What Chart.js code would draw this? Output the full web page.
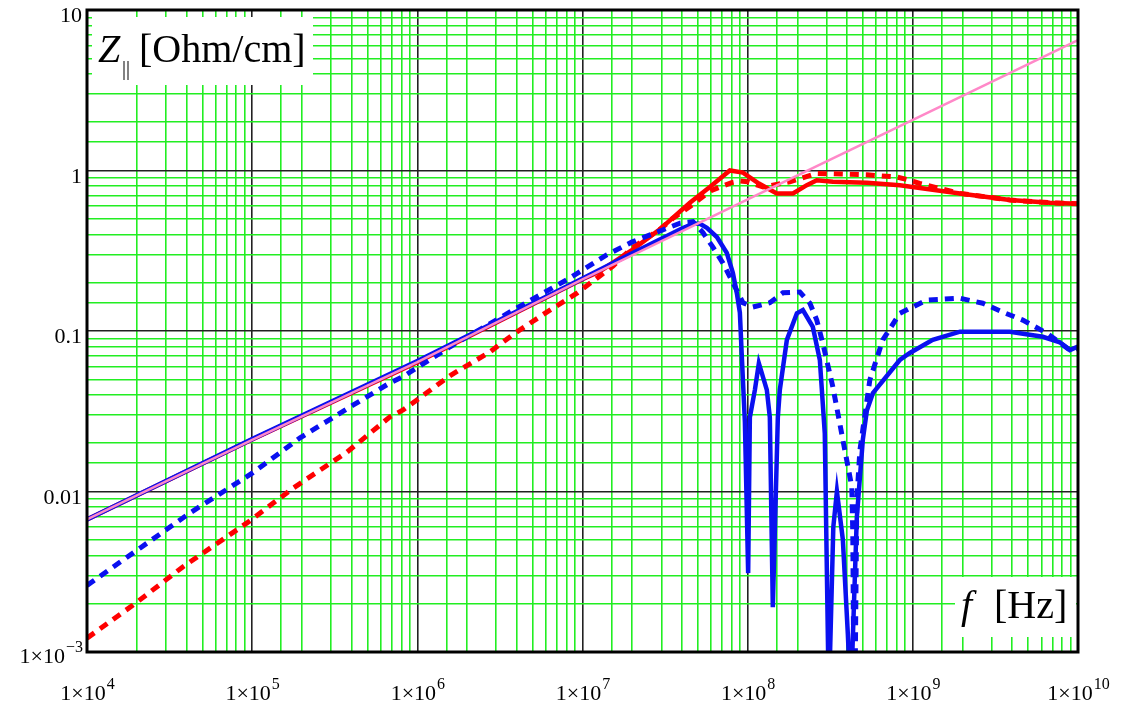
<!DOCTYPE html>
<html lang="en">

<head>
    <meta charset="UTF-8">
    <title>Z|| [Ohm/cm] vs f [Hz]</title>
    <script src="https://cdn.jsdelivr.net/npm/chart.js"></script>
    <style>
        body {
            margin: 0;
            background: white;
        }

        .chart-container {
            width: 1132px;
            height: 708px;
        }
    </style>
</head>

<body>
    <div class="chart-container">
        <canvas id="zChart" width="1132" height="708"></canvas>
    </div>
</body>

<script>
    // values (f in Hz, Z in Ohm/cm)
    let pinkF = [1e4, 1e5, 1e6, 1e7, 1e8, 1e9, 1e10];
    let pinkZ = [0.0067, 0.021, 0.064, 0.21, 0.66, 2.07, 6.5];

    let blueSolidF = [1e4, 1e5, 1e6, 1e7, 2e7, 3e7, 4e7, 4.66e7, 5.14e7, 5.66e7, 6.51e7, 7.48e7, 8.14e7, 8.6e7,
        8.97e7, 9.22e7, 9.62e7, 1.007e8, 1.031e8, 1.106e8, 1.169e8, 1.306e8, 1.362e8, 1.42e8, 1.523e8, 1.566e8,
        1.727e8, 1.986e8, 2.159e8, 2.48e8, 2.735e8, 2.93e8, 3.1e8, 3.3e8, 3.47e8, 3.77e8, 4.04e8, 4.21e8,
        4.58e8, 4.98e8, 5.27e8, 5.73e8, 8.34e8, 9.59e8, 1.32e9, 1.93e9, 3.87e9, 6.12e9, 7.76e9, 8.92e9, 1e10];
    let blueSolidZ = [0.0067, 0.0212, 0.065, 0.212, 0.305, 0.375, 0.435, 0.465, 0.465, 0.44, 0.385, 0.306, 0.23, 0.172,
        0.13, 0.069, 0.027, 0.0031, 0.029, 0.043, 0.063, 0.043, 0.029, 0.0019, 0.029, 0.043,
        0.088, 0.129, 0.135, 0.106, 0.066, 0.023, 0.0005, 0.006, 0.01, 0.005, 0.0013, 0.0005,
        0.0069, 0.021, 0.032, 0.041, 0.066, 0.073, 0.088, 0.099, 0.099, 0.092, 0.085, 0.076, 0.08];

    let blueDashF = [1e4, 2.1e4, 4.2e4, 1e5, 1.95e5, 4.1e5, 6.8e5, 8.2e5, 1.57e6, 4e6, 8e6, 1.4e7, 2e7, 3.9e7,
        4.66e7, 5.36e7, 6.16e7, 7.08e7, 8.14e7, 9.36e7, 1.075e8, 1.362e8, 1.634e8, 2.07e8, 2.38e8, 2.62e8,
        2.85e8, 3.28e8, 3.77e8, 4.27e8, 4.33e8, 4.4e8, 4.46e8, 4.58e8, 4.78e8, 5.49e8, 6.58e8, 8.34e8,
        1.215e9, 1.93e9, 2.65e9, 3.51e9, 4.63e9, 6.47e9, 8.92e9, 1e10];
    let blueDashZ = [0.0026, 0.00445, 0.00735, 0.013, 0.0216, 0.0346, 0.0474, 0.052, 0.0795, 0.139, 0.208, 0.298, 0.359, 0.47,
        0.48, 0.41, 0.333, 0.265, 0.2, 0.15, 0.141, 0.15, 0.173, 0.175, 0.149, 0.117,
        0.084, 0.0448, 0.021, 0.0107, 0.0055, 0.0005, 0.0005, 0.0089, 0.018, 0.0495, 0.088, 0.129,
        0.156, 0.16, 0.149, 0.131, 0.117, 0.097, 0.076, 0.078];

    let redSolidF = [1e4, 1e5, 1e6, 1e7, 1.27e7, 2e7, 2.94e7, 3.24e7, 4.47e7, 5.9e7, 7.8e7, 9.36e7, 1.17e8, 1.5e8,
        1.88e8, 2.28e8, 2.62e8, 3.28e8, 5.27e8, 8.34e8, 1.93e9, 3.87e9, 6.75e9, 1e10];
    let redSolidZ = [0.0067, 0.0211, 0.064, 0.21, 0.235, 0.32, 0.43, 0.47, 0.63, 0.79, 1.0, 0.97, 0.83, 0.72,
        0.72, 0.81, 0.87, 0.85, 0.84, 0.81, 0.72, 0.655, 0.63, 0.62];

    let redDashF = [1e4, 1.9e4, 3.8e4, 9.3e4, 1.77e5, 3.75e5, 6.8e5, 8.2e5, 1.6e6, 2.75e6, 3.9e6, 6.35e6, 9.25e6,
        1.53e7, 2e7, 2.94e7, 3.5e7, 4.5e7, 6e7, 8e7, 9e7, 1e8, 1.24e8, 1.8e8, 2.62e8, 5.3e8, 8e8, 9.6e8, 1.1e9,
        1.93e9, 3.87e9, 6.75e9, 1e10];
    let redDashZ = [0.00122, 0.00196, 0.00339, 0.00637, 0.0105, 0.0176, 0.0291, 0.0322, 0.0532, 0.074, 0.097, 0.135, 0.172,
        0.254, 0.33, 0.43, 0.5, 0.6, 0.75, 0.84, 0.86, 0.85, 0.79, 0.85, 0.96, 0.94, 0.91, 0.87, 0.83,
        0.72, 0.655, 0.63, 0.62];

    let xExponents = [4, 5, 6, 7, 8, 9, 10];
    let yTickValues = [10, 1, 0.1, 0.01, 0.001];
    let yTickLabels = ["10", "1", "0.1", "0.01", null]; // null -> 1×10^-3

    const SERIF = "'Liberation Serif', 'DejaVu Serif', serif";

    function toPoints(fs, zs) {
        return fs.map((f, i) => ({ x: f, y: zs[i] }));
    }

    function isDecade(v) {
        let l = Math.log10(v);
        return Math.abs(l - Math.round(l)) < 1e-6;
    }

    function gridColor(ctx) {
        if (ctx.tick && isDecade(ctx.tick.value)) return "#222222";
        return "#22ee22";
    }

    // "1×10" with raised exponent, centred (align 'center') or right aligned
    function drawPow(c, text, exp, x, y, align) {
        c.font = "22px " + SERIF;
        let w1 = c.measureText(text).width;
        c.font = "16px " + SERIF;
        let w2 = c.measureText(exp).width;
        let start = align == "center" ? x - (w1 + w2) / 2 : x - (w1 + w2);
        c.textAlign = "left";
        c.textBaseline = "alphabetic";
        c.font = "22px " + SERIF;
        c.fillText(text, start, y);
        c.font = "16px " + SERIF;
        c.fillText(exp, start + w1 + 1, y - 11);
    }

    const mathcadLook = {
        id: "mathcadLook",
        beforeDraw(chart) {
            let c = chart.ctx;
            c.save();
            c.fillStyle = "white";
            c.fillRect(0, 0, chart.width, chart.height);
            c.restore();
        },
        beforeDatasetsDraw(chart) {
            let c = chart.ctx;
            c.save();
            c.fillStyle = "white";
            c.fillRect(92, 17, 221, 68);
            c.fillRect(955, 577, 121, 60);
            c.fillStyle = "black";
            c.textBaseline = "alphabetic";
            c.textAlign = "left";
            c.font = "italic 40px " + SERIF;
            c.fillText("Z", 98, 62);
            c.font = "20px " + SERIF;
            c.fillText("||", 122, 75);
            c.font = "40px " + SERIF;
            c.fillText("[Ohm/cm]", 139, 62);
            c.font = "italic 40px " + SERIF;
            c.fillText("f", 961, 618);
            c.font = "40px " + SERIF;
            c.fillText("[Hz]", 994, 618);
            c.restore();
        },
        afterDraw(chart) {
            let c = chart.ctx;
            let a = chart.chartArea;
            let xs = chart.scales.x;
            let ys = chart.scales.y;
            c.save();
            c.strokeStyle = "black";
            c.lineWidth = 3;
            c.strokeRect(a.left, a.top, a.right - a.left, a.bottom - a.top);

            c.fillStyle = "black";
            xExponents.forEach(p => {
                let px = xs.getPixelForValue(Math.pow(10, p));
                drawPow(c, "1×10", String(p), px, 700, "center");
            });

            yTickValues.forEach((v, i) => {
                let py = ys.getPixelForValue(v);
                if (yTickLabels[i] === null) {
                    drawPow(c, "1×10", "−3", 82, py + 11, "right");
                } else {
                    c.font = "22px " + SERIF;
                    c.textAlign = "right";
                    c.textBaseline = "alphabetic";
                    c.fillText(yTickLabels[i], 82, py + 12);
                }
            });
            c.restore();
        }
    };

    let ctx = document.getElementById("zChart").getContext("2d");
    let zChart = new Chart(ctx, {
        type: "line",
        data: {
            datasets: [
                {
                    label: "pink",
                    data: toPoints(pinkF, pinkZ),
                    borderColor: "#ff88c8",
                    borderWidth: 2.5
                },
                {
                    label: "blue solid",
                    data: toPoints(blueSolidF, blueSolidZ),
                    borderColor: "#0a10f0",
                    borderWidth: 4.5
                },
                {
                    label: "blue dashed",
                    data: toPoints(blueDashF, blueDashZ),
                    borderColor: "#0a10f0",
                    borderWidth: 5,
                    borderDash: [9, 7]
                },
                {
                    label: "red dashed",
                    data: toPoints(redDashF, redDashZ),
                    borderColor: "#ff0000",
                    borderWidth: 5,
                    borderDash: [9, 7]
                },
                {
                    label: "red solid",
                    data: toPoints(redSolidF, redSolidZ),
                    borderColor: "#ff0000",
                    borderWidth: 4.5
                }
            ]
        },
        options: {
            responsive: false,
            animation: false,
            layout: {
                padding: { left: 87, right: 54, top: 10, bottom: 56 }
            },
            elements: {
                point: { radius: 0 },
                line: { tension: 0, fill: false }
            },
            plugins: {
                legend: { display: false },
                tooltip: { enabled: false }
            },
            scales: {
                x: {
                    type: "logarithmic",
                    min: 1e4,
                    max: 1e10,
                    ticks: { display: false, autoSkip: false },
                    border: { display: false },
                    grid: {
                        color: gridColor,
                        lineWidth: 1.6,
                        drawTicks: false
                    }
                },
                y: {
                    type: "logarithmic",
                    min: 1e-3,
                    max: 10,
                    ticks: { display: false, autoSkip: false },
                    border: { display: false },
                    grid: {
                        color: gridColor,
                        lineWidth: 1.6,
                        drawTicks: false
                    }
                }
            }
        },
        plugins: [mathcadLook]
    });
</script>

</html>
